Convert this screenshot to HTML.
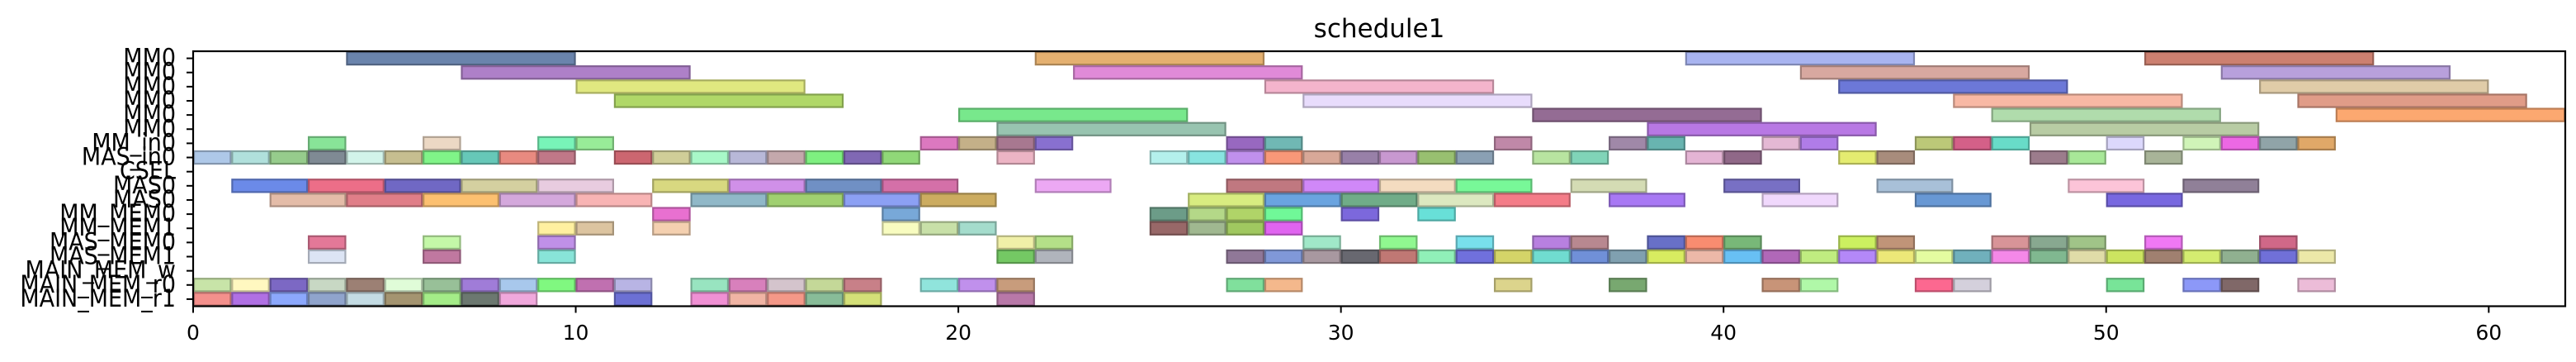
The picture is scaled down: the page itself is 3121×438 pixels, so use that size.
<!DOCTYPE html>
<html><head><meta charset="utf-8"><title>schedule1</title>
<style>
html,body{margin:0;padding:0;background:#fff;}
svg{display:block;font-family:"DejaVu Sans","Liberation Sans",sans-serif;}
</style></head>
<body>
<svg id="chart" width="3121" height="438" viewBox="0 0 3121 438" xmlns="http://www.w3.org/2000/svg">
<text x="1671" y="45" text-anchor="middle" font-size="31" fill="#000">schedule1</text>
<g id="bars"></g>
<g id="axes"></g>
</svg>
<script>
const rowLabels = ["MM0","MM0","MM0","MM0","MM0","MM0","MM_in0","MAS_in0","CSEL","MAS0","MAS0","MM_MEM0","MM_MEM1","MAS_MEM0","MAS_MEM1","MAIN_MEM_w","MAIN_MEM_r0","MAIN_MEM_r1"];
const xTicks = [0,10,20,30,40,50,60];
const xMax = 62;
// task start times per row
const rowStarts = [
[4,22,39,51],
[7,23,42,53],
[10,28,43,54],
[11,29,46,55],
[20,35,47,56],
[21,38,48],
[3,6,9,10,19,20,21,22,27,28,34,37,38,41,42,45,46,47,50,52,53,54,55],
[0,1,2,3,4,5,6,7,8,9,11,12,13,14,15,16,17,18,21,25,26,27,28,29,30,31,32,33,35,36,39,40,43,44,48,49,51],
[],
[1,3,5,7,9,12,14,16,18,22,27,29,31,33,36,40,44,49,52],
[2,4,6,8,10,13,15,17,19,26,28,30,32,34,37,41,45,50],
[12,18,25,26,27,28,30,32],
[9,10,12,18,19,20,25,26,27,28],
[3,6,9,21,22,29,31,33,35,36,38,39,40,43,44,47,48,49,51,54],
[3,6,9,21,22,27,28,29,30,31,32,33,34,35,36,37,38,39,40,41,42,43,44,45,46,47,48,49,50,51,52,53,54,55],
[],
[0,1,2,3,4,5,6,7,8,9,10,11,13,14,15,16,17,19,20,21,27,28,34,37,41,42,45,46,50,52,53,55],
[0,1,2,3,4,5,6,7,8,11,13,14,15,16,17,21]
];
// task end times per row
const rowEnds = [
[10,28,45,57],
[13,29,48,59],
[16,34,49,60],
[17,35,52,61],
[26,41,53,62],
[27,44,54],
[4,7,10,11,20,21,22,23,28,29,35,38,39,42,43,46,47,48,51,53,54,55,56],
[1,2,3,4,5,6,7,8,9,10,12,13,14,15,16,17,18,19,22,26,27,28,29,30,31,32,33,34,36,37,40,41,44,45,49,50,52],
[],
[3,5,7,9,11,14,16,18,20,24,29,31,33,35,38,42,46,51,54],
[4,6,8,10,12,15,17,19,21,28,30,32,34,36,39,43,47,52],
[13,19,26,27,28,29,31,33],
[10,11,13,19,20,21,26,27,28,29],
[4,7,10,22,23,30,32,34,36,37,39,40,41,44,45,48,49,50,52,55],
[4,7,10,22,23,28,29,30,31,32,33,34,35,36,37,38,39,40,41,42,43,44,45,46,47,48,49,50,51,52,53,54,55,56],
[],
[1,2,3,4,5,6,7,8,9,10,11,12,14,15,16,17,18,20,21,22,28,29,35,38,42,43,46,47,51,53,54,56],
[1,2,3,4,5,6,7,8,9,12,14,15,16,17,18,22]
];
// bar colours per row (style)
const rowColors = [
["#6a84ac","#e4b070","#a8b4f0","#cc8070"],
["#ae80c8","#e08ad8","#d8a8a0","#b8a0dc"],
["#e0e880","#f4b4cc","#6c78d8","#e0cca8"],
["#b0d868","#e8dcfc","#f8b8a4","#e09c88"],
["#78e88c","#946c94","#b0dcac","#fca870"],
["#98c4b0","#b878e4","#b8cca4"],
["#88e498","#ecd8c4","#78f4b8","#98ec98","#dc78c0","#c4b088","#a87890","#8870d0","#9868c0","#70b8b4","#c088a8","#a088a8","#68b4b0","#e4b8d4","#b07ce8","#bcc878","#d46088","#68dcc8","#dcd8fc","#d0f4b8","#ec68e4","#90a4a8","#e0a868"],
["#aec8e8","#b0e0dc","#96cc8c","#7f8a94","#d2f4ea","#c6be90","#80f488","#66c8b8","#e88a80","#c07888","#cc6670","#d0ce98","#a8f8c8","#b8b8d8","#c4a8ac","#7ef080","#8068b4","#90d878","#ecb4c4","#b4f0ec","#88e4e0","#c090ec","#f89878","#d8a898","#9880a8","#c898d0","#98c070","#8aa0b4","#b8e4a0","#80d4b8","#e4b4d4","#906888","#e4ec70","#a88c7c","#9c7c8c","#a8e898","#a8b498"],
[],
["#6b8ae8","#ec6e88","#7068c4","#d4d0a0","#e8cce0","#d8d880","#d090e8","#7090c4","#d470a8","#eca8f4","#c07880","#d088f8","#f4dcc0","#78f898","#d4dcb4","#7870c4","#a8c0d8","#fcc4d8","#908098"],
["#e4bca8","#e07e88","#fcc070","#d4a8dc","#f8b4b4","#90b8c8","#a0d070","#8ca0f4","#ccac60","#d8ec80","#6aa4e0","#70ac88","#dce8c0","#f47c88","#a878f4","#f0d8fc","#6898d4","#7868e0"],
["#e870d0","#78a8d8","#6c9c88","#b4d888","#b0d468","#70f898","#7c68dc","#68e0d8"],
["#fff0a0","#dcc4a0","#f4d0b0","#f8fcc0","#c8e0a8","#a4dccc","#986868","#a0b890","#a0c860","#e064f0"],
["#e47898","#c4f8a8","#c090e8","#f0f0a8","#b4e088","#a0e8c8","#90f890","#78e0ec","#b880e0","#b88890","#6870c8","#f88c70","#78b878","#ccf060","#c09478","#d89498","#88a890","#a0c488","#f078f4","#d06888"],
["#dce4f4","#c078a0","#88e4d8","#74c864","#b0b4bc","#907898","#8098d8","#a898a0","#686870","#c07874","#90f0b8","#7070dc","#d4d468","#70dcd0","#7090d8","#80a0b0","#d8ec60","#ecb8a8","#68c0f4","#b068b8","#c0ec80","#b488f8","#ece878","#e4fca0","#70b0bc","#f488e8","#80b890","#e0dca8","#cce460","#a08070","#d4ec70","#90b090","#7070d8","#ece8a8"],
[],
["#c8e4a8","#fff8c0","#7c68c4","#c8d8c4","#9c8074","#e0fcd8","#98c098","#a07cd8","#a8c8ec","#80f880","#c070b0","#b8b4e4","#98e4c0","#d880bc","#d4c4cc","#c4d898","#c88088","#90e4dc","#c090ec","#c89c7c","#80e09c","#f4b88c","#dcd48c","#78a870","#c89478","#b0f8a8","#fc6890","#d4d0dc","#78e498","#8c98f8","#806868","#ecbcd8"],
["#f4908c","#b070e4","#8ca8fc","#90a4cc","#c4dce4","#a49470","#a4ec88","#6c7870","#f0a8dc","#6c70d4","#f090d4","#f0b4a4","#f49888","#88bc98","#d4e078","#b878a8"]
];

const NS = "http://www.w3.org/2000/svg";
const L = 234, R = 3108, T = 62, B = 370.5;
const rowH = (B - T) / rowLabels.length;
function xs(u){ return L + u * (R - L) / xMax; }
function ys(r){ return T + r * rowH; }
function darker(hex){
  if (!hex) hex = "#999999";
  const n = parseInt(hex.slice(1),16);
  const c = [(n>>16)&255,(n>>8)&255,n&255].map(v=>Math.round(v*0.75));
  return "rgb("+c.join(",")+")";
}
const bars = document.getElementById("bars");
for (let r = 0; r < rowStarts.length; r++) {
  const st = rowStarts[r], en = rowEnds[r] || [], co = rowColors[r] || [];
  for (let i = 0; i < st.length; i++) {
    if (en[i] === undefined) continue;
    const col = co[i] || "#999999";
    const rect = document.createElementNS(NS,"rect");
    const x0 = xs(st[i]), x1 = xs(en[i]);
    rect.setAttribute("x", x0 + 1);
    rect.setAttribute("y", ys(r) + 1);
    rect.setAttribute("width", Math.max(0, x1 - x0 - 2));
    rect.setAttribute("height", rowH - 2);
    rect.setAttribute("fill", col);
    rect.setAttribute("stroke", darker(col));
    rect.setAttribute("stroke-width", "2.2");
    
    
    bars.appendChild(rect);
  }
}
const axes = document.getElementById("axes");
const frame = document.createElementNS(NS,"rect");
frame.setAttribute("x", L); frame.setAttribute("y", T);
frame.setAttribute("width", R - L); frame.setAttribute("height", B - T);
frame.setAttribute("fill","none"); frame.setAttribute("stroke","#000"); frame.setAttribute("stroke-width","2.2");


axes.appendChild(frame);
for (let i = 0; i < rowLabels.length; i++) {
  const yc = ys(i) + rowH/2;
  const tk = document.createElementNS(NS,"line");
  tk.setAttribute("x1", L - 8); tk.setAttribute("x2", L);
  tk.setAttribute("y1", yc); tk.setAttribute("y2", yc);
  tk.setAttribute("stroke","#000"); tk.setAttribute("stroke-width","2");
  
  
  axes.appendChild(tk);
  const t = document.createElementNS(NS,"text");
  t.setAttribute("transform","translate(213," + (yc + 9) + ") scale(0.93,1)");
  t.setAttribute("text-anchor","end");
  t.setAttribute("font-size","29");
  t.textContent = rowLabels[i];
  
  
  axes.appendChild(t);
}
for (let i = 0; i < xTicks.length; i++) {
  const x = xs(xTicks[i]);
  const tk = document.createElementNS(NS,"line");
  tk.setAttribute("x1", x); tk.setAttribute("x2", x);
  tk.setAttribute("y1", B); tk.setAttribute("y2", B + 8);
  tk.setAttribute("stroke","#000"); tk.setAttribute("stroke-width","2");
  
  
  axes.appendChild(tk);
  const t = document.createElementNS(NS,"text");
  t.setAttribute("x", x); t.setAttribute("y", 411);
  t.setAttribute("text-anchor","middle");
  t.setAttribute("font-size","25");
  t.textContent = String(xTicks[i]);
  
  
  axes.appendChild(t);
}
</script>
</body></html>
